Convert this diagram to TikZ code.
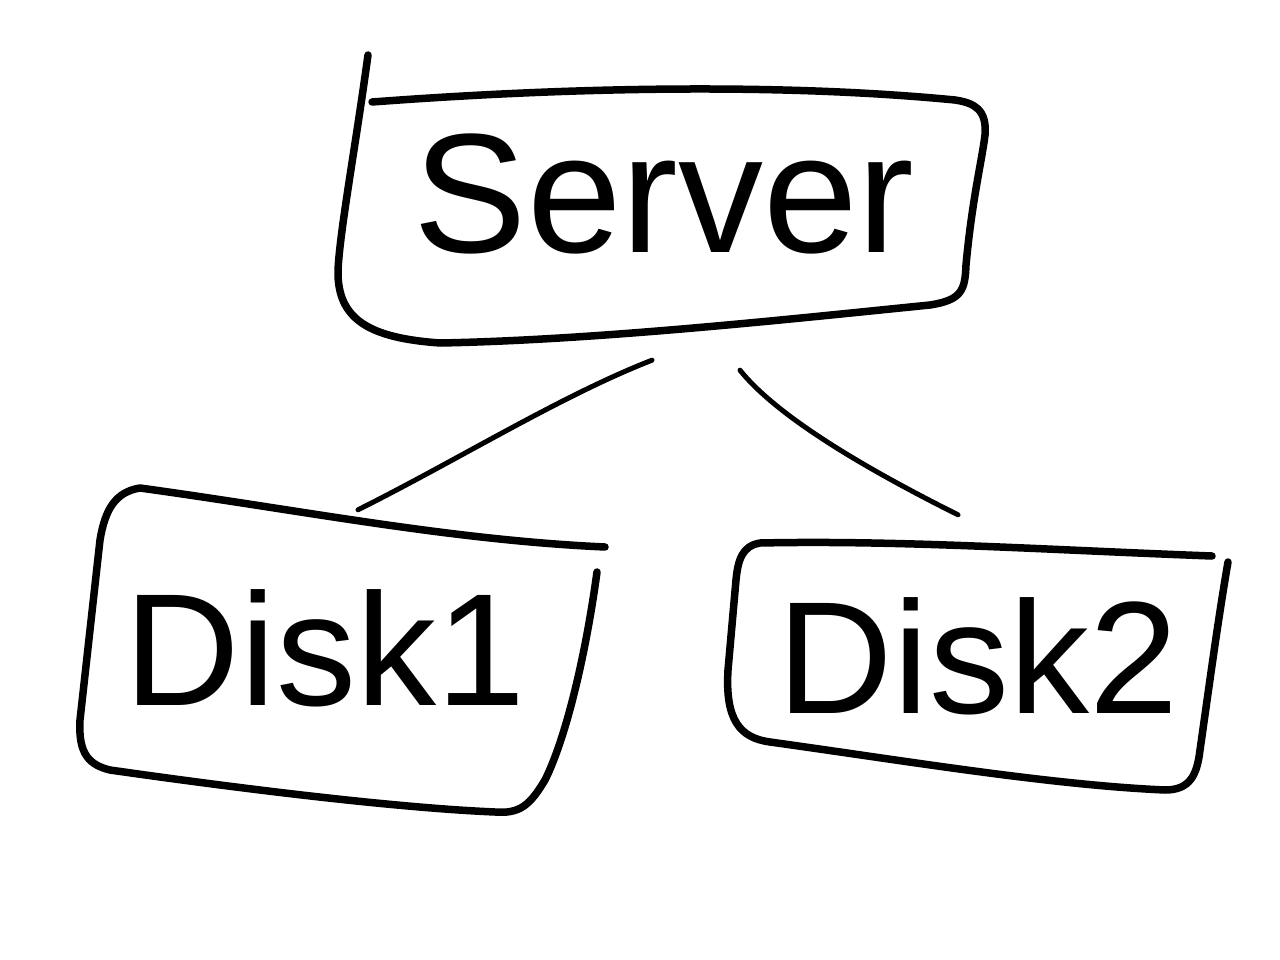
\documentclass[tikz,border=0pt]{standalone}
\usepackage{fontspec}
\setmainfont{Liberation Sans}
\begin{document}
\begin{tikzpicture}[x=1pt,y=-1pt,
  box/.style={line width=7.5pt,line cap=round,line join=round},
  link/.style={line width=5pt,line cap=round},
  area/.style={inner sep=0pt,font=\fontsize{160}{160}\selectfont}]
\fill[white] (0,0) rectangle (1280,960);
\useasboundingbox (0,0) rectangle (1280,960);
% nodes
\node[area,minimum width=640pt,minimum height=260pt,font=\fontsize{170}{170}\selectfont] (server) at (664,194) {Server};
\node[area,minimum width=520pt,minimum height=320pt] (disk1) at (325,648) {Disk1};
\node[area,minimum width=490pt,minimum height=240pt] (disk2) at (978,656) {Disk2};
% hand-drawn outlines
\draw[box] (368,55) .. controls (355,150) and (340,230) .. (338,270)
  .. controls (337,320) and (370,338) .. (440,343)
  .. controls (600,340) and (800,318) .. (930,305)
  .. controls (962,300) and (965,290) .. (966,265)
  .. controls (972,200) and (982,160) .. (985,135)
  .. controls (987,110) and (975,103) .. (955,100)
  .. controls (800,85) and (600,85) .. (372,102);
\draw[box] (605,547) .. controls (450,540) and (300,510) .. (140,488)
  .. controls (115,492) and (105,510) .. (100,540) -- (80,720)
  .. controls (78,755) and (90,765) .. (110,770)
  .. controls (250,790) and (400,808) .. (495,812)
  .. controls (520,814) and (530,805) .. (545,780)
  .. controls (565,740) and (585,660) .. (597,572);
\draw[box] (1212,556) .. controls (1050,550) and (900,540) .. (760,543)
  .. controls (742,546) and (738,560) .. (736,580) -- (728,670)
  .. controls (725,720) and (740,738) .. (770,742)
  .. controls (900,760) and (1050,785) .. (1165,790)
  .. controls (1190,790) and (1197,775) .. (1200,750)
  .. controls (1210,680) and (1218,620) .. (1228,562);
% connectors
\draw[link] ([shift={(-12,36)}]server.south) .. controls +(-90,35) and +(100,-50) .. ([shift={(33,22)}]disk1.north);
\draw[link] ([shift={(76,46)}]server.south) .. controls +(40,50) and +(-80,-40) .. ([shift={(-20,-21)}]disk2.north);
\end{tikzpicture}
\end{document}
